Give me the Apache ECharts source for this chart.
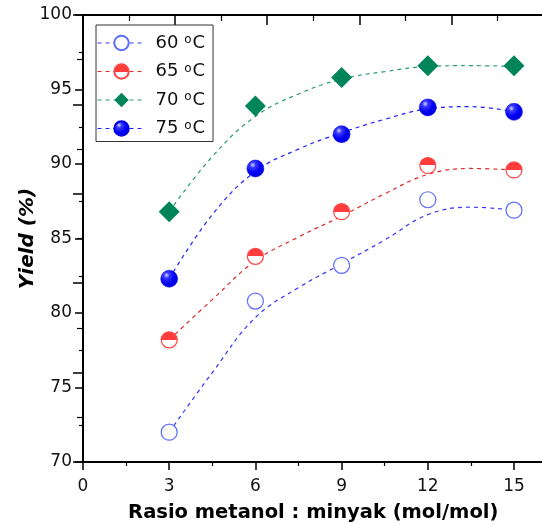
<!DOCTYPE html>
<html>
<head>
<meta charset="utf-8">
<script src="https://cdn.jsdelivr.net/npm/echarts@6/dist/echarts.min.js"></script>
<style>
html,body{margin:0;padding:0;background:#fff;}
#chart{width:542px;height:524px;}
</style>
</head>
<body>
<div id="chart"></div>
<script>
// ---- data ----
const ratioX = [3, 6, 9, 12, 15];
const yield60 = [72.0, 80.8, 83.2, 87.6, 86.9];
const yield65 = [78.2, 83.8, 86.8, 89.9, 89.6];
const yield70 = [86.8, 93.9, 95.8, 96.6, 96.6];
const yield75 = [82.3, 89.7, 92.0, 93.8, 93.5];
// trend (fit) curves
const fitX = [3, 4.5, 6, 7.5, 9, 10.5, 12, 13.5, 15];
const fit60 = [72.0, 76.0, 79.7, 81.7, 83.3, 84.9, 86.6, 87.1, 86.9];
const fit65 = [78.2, 80.9, 83.5, 85.1, 86.5, 88.0, 89.3, 89.7, 89.6];
const fit70 = [86.8, 90.5, 93.2, 94.7, 95.7, 96.2, 96.55, 96.6, 96.55];
const fit75 = [82.3, 86.6, 89.5, 91.0, 92.1, 93.0, 93.7, 93.85, 93.5];
const seriesNames = ['60', '65', '70', '75'];
const xTicks = [0, 3, 6, 9, 12, 15];
const yTicks = [70, 75, 80, 85, 90, 95, 100];

const FONT = 'DejaVu Sans';
const pairs = (xs, ys) => xs.map((x, i) => [x, ys[i]]);

const chart = echarts.init(document.getElementById('chart'), null, {renderer: 'canvas'});

const halfRed = new echarts.graphic.LinearGradient(0, 0, 0, 1, [
  {offset: 0, color: '#ff3b3b'}, {offset: 0.5, color: '#ff3b3b'},
  {offset: 0.5, color: '#ffffff'}, {offset: 1, color: '#ffffff'}
]);
const sphere = new echarts.graphic.RadialGradient(0.35, 0.3, 0.75, [
  {offset: 0, color: '#d8d8ff'}, {offset: 0.22, color: '#3a3aff'},
  {offset: 0.6, color: '#0000f5'}, {offset: 1, color: '#0000d8'}
]);

const styles = {
  '60': {symbol: 'circle', size: 16, item: {color: '#ffffff', borderColor: '#5c6cff', borderWidth: 1.2}, line: '#3333ff'},
  '65': {symbol: 'circle', size: 16, item: {color: halfRed, borderColor: '#ff4444', borderWidth: 1.2}, line: '#e02a2a'},
  '70': {symbol: 'diamond', size: 21, item: {color: '#00855a', borderColor: '#00855a', borderWidth: 0}, line: '#2a9a72'},
  '75': {symbol: 'circle', size: 17, item: {color: sphere, borderColor: '#0000e8', borderWidth: 0.5}, line: '#2222ff'}
};
const pointData = {'60': yield60, '65': yield65, '70': yield70, '75': yield75};
const fitData = {'60': fit60, '65': fit65, '70': fit70, '75': fit75};

const series = [];
seriesNames.forEach(n => {
  const s = styles[n];
  series.push({
    name: n + 'fit', type: 'line', xAxisIndex: 0, yAxisIndex: 0,
    data: pairs(fitX, fitData[n]), smooth: 0.4, showSymbol: false, symbol: 'none',
    lineStyle: {color: s.line, width: 1.2, type: [4, 4]}, z: 2, silent: true
  });
});
seriesNames.forEach(n => {
  const s = styles[n];
  series.push({
    name: n, type: 'line', xAxisIndex: 0, yAxisIndex: 0,
    data: pairs(ratioX, pointData[n]), symbol: s.symbol, symbolSize: s.size,
    itemStyle: s.item, lineStyle: {color: s.line, opacity: 0, width: 1, type: [4, 4]}, z: 5
  });
});

const axisLineStyle = {color: '#000', width: 2};

const option = {
  animation: false,
  backgroundColor: '#fff',
  grid: [
    {left: 83, top: 15, width: 431, height: 447, outerBoundsMode: 'none', containLabel: false},
    {left: 83, top: 15, width: 460.5, height: 447, outerBoundsMode: 'none', containLabel: false}
  ],
  legend: {
    data: seriesNames, orient: 'vertical', left: 96, top: 25,
    padding: [9, 8, 1, 1], itemWidth: 48, itemHeight: 18, itemGap: 7.5,
    borderColor: '#333', borderWidth: 1, backgroundColor: '#fff',
    lineStyle: {opacity: 1, width: 1, type: [4, 4]},
    formatter: name => name + ' {s|o}C',
    textStyle: {
      fontFamily: FONT, fontSize: 18, lineHeight: 18, color: '#111', padding: [0, 0, 0, 5],
      rich: {s: {fontFamily: FONT, fontSize: 12, lineHeight: 18, verticalAlign: 'top', padding: [0, 1, 9, 0], color: '#111'}}
    }
  },
  xAxis: [
    {
      gridIndex: 0, type: 'value', position: 'bottom', min: 0, max: 15, interval: 3,
      axisLine: {lineStyle: axisLineStyle},
      axisTick: {show: true, inside: false, length: 8, lineStyle: {color: '#000', width: 1.5}},
      minorTick: {show: true, splitNumber: 2, length: 4, lineStyle: {color: '#000', width: 1.2}},
      axisLabel: {fontFamily: FONT, fontSize: 17, color: '#111', margin: 16,
        formatter: v => xTicks.includes(v) ? String(v) : ''},
      splitLine: {show: false}
    },
    {
      gridIndex: 1, type: 'value', position: 'bottom', min: 0, max: 10,
      axisLine: {lineStyle: axisLineStyle}, axisTick: {show: false}, axisLabel: {show: false},
      splitLine: {show: false},
      name: 'Rasio metanol : minyak (mol/mol)', nameLocation: 'middle', nameGap: 41, nameMoveOverlap: false,
      nameTextStyle: {fontFamily: FONT, fontSize: 19.5, fontWeight: 'bold', color: '#000'}
    },
    {
      gridIndex: 1, type: 'value', position: 'top', min: 0, max: 10, interval: 2,
      axisLine: {lineStyle: axisLineStyle},
      axisTick: {show: true, inside: true, length: 10, lineStyle: {color: '#000', width: 1.5}},
      minorTick: {show: true, splitNumber: 2, length: 6, lineStyle: {color: '#000', width: 1.2}},
      axisLabel: {show: false}, splitLine: {show: false}
    }
  ],
  yAxis: [
    {
      gridIndex: 0, type: 'value', min: 70, max: 100, interval: 5,
      axisLine: {show: true, lineStyle: axisLineStyle},
      axisTick: {show: true, inside: false, length: 8, lineStyle: {color: '#000', width: 1.5}},
      minorTick: {show: true, splitNumber: 2, length: 4, lineStyle: {color: '#000', width: 1.2}},
      axisLabel: {fontFamily: FONT, fontSize: 17, color: '#111', margin: 11,
        formatter: v => yTicks.includes(v) ? String(v) : ''},
      splitLine: {show: false},
      name: 'Yield (%)', nameLocation: 'middle', nameGap: 45, nameRotate: 90, nameMoveOverlap: false,
      nameTextStyle: {fontFamily: FONT, fontSize: 20, fontWeight: 'bold', fontStyle: 'italic', color: '#000'}
    },
    {
      gridIndex: 1, type: 'value', position: 'right', min: 0, max: 10, interval: 2,
      axisLine: {show: false},
      axisTick: {show: true, inside: true, length: 10, lineStyle: {color: '#000', width: 1.5}},
      minorTick: {show: true, splitNumber: 2, length: 6, lineStyle: {color: '#000', width: 1.2}},
      axisLabel: {show: false}, splitLine: {show: false}
    }
  ],
  series: series
};
chart.setOption(option);
</script>
</body>
</html>
